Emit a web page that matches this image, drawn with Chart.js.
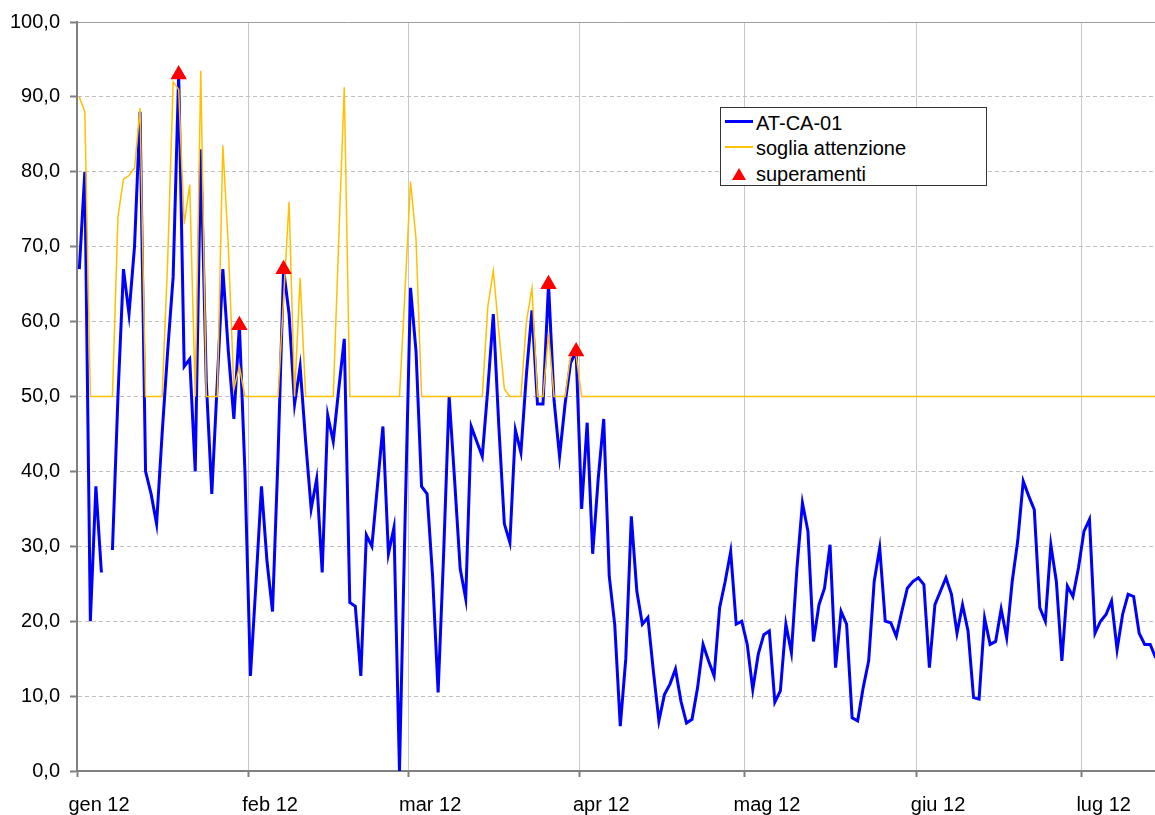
<!DOCTYPE html>
<html lang="it">
<head>
<meta charset="UTF-8">
<title>AT-CA-01 - soglia attenzione</title>
<script src="https://cdn.jsdelivr.net/npm/chart.js@4.4.1/dist/chart.umd.min.js"></script>
<style>
    body { margin: 0; background: #fff; }
    #wrap { position: relative; width: 1155px; height: 815px; overflow: hidden; }
    #legenda {
        position: absolute; left: 720px; top: 107px; width: 265px; height: 77px;
        border: 1px solid #333; background: #fff;
        font-family: "Liberation Sans", Arial, sans-serif; font-size: 20px; color: #000;
    }
    #legenda .testo { position: absolute; left: 35px; white-space: nowrap; line-height: 24px; }
    #legenda .linea { position: absolute; }
    #legenda .tri {
        position: absolute; width: 0; height: 0;
        border-left: 7px solid transparent; border-right: 7px solid transparent;
        border-bottom: 12px solid #ff0000;
    }
</style>
</head>
<body>
<div id="wrap">
    <canvas id="chart" width="1155" height="815"></canvas>
    <div id="legenda">
        <div class="linea" style="left:4px; top:12px; width:28px; height:3px; background:#0000ff;"></div>
        <div class="testo" style="top:3px;">AT-CA-01</div>
        <div class="linea" style="left:4px; top:38px; width:28px; height:2px; background:#ffc000;"></div>
        <div class="testo" style="top:28px;">soglia attenzione</div>
        <div class="tri" style="left:11px; top:60px;"></div>
        <div class="testo" style="top:54px;">superamenti</div>
    </div>
</div>
<script>
    // giorni dal 1 gennaio 2012 in cui inizia ogni mese
    const giorniMese = [0, 31, 60, 91, 121, 152, 182];
    const etichetteMesi = ['gen 12', 'feb 12', 'mar 12', 'apr 12', 'mag 12', 'giu 12', 'lug 12'];

    // valori giornalieri AT-CA-01 (dal 1 gennaio)
    const atCa01 = [
        67, 80, 20, 38, 26.5, null, 29.5, 50, 67, 61,
        70, 88, 40, 37, 33, 45, 56, 66, 93, 54,
        55, 40, 83, 52, 37, 52, 67, 56, 47, 59.5,
        40, 12.7, 25, 38, 28, 21.3, 42, 67, 61, 49,
        54, 44, 35, 39, 26.5, 47.5, 44, 51, 57.7, 22.5,
        22, 12.7, 31.5, 30, 38, 46, 29, 32.5, 0, 33,
        64.5, 56, 38, 37, 26, 10.5, 29, 50, 38.7, 27,
        23, 46, 44, 42, 51, 61, 46, 33, 30.5, 45.5,
        42.5, 53, 61.5, 49, 49, 65, 49.5, 42, 49, 54.5,
        56, 35, 46.5, 29, 39, 47, 26, 19.5, 6, 15,
        34, 24, 19.6, 20.5, 13.3, 6.7, 10.2, 11.6, 13.6, 9.3,
        6.4, 6.9, 11.1, 16.9, 14.7, 12.7, 21.8, 25.3, 29.3, 19.6,
        20, 16.9, 10.9, 15.6, 18.2, 18.7, 9.2, 10.7, 19.6, 15.8,
        27, 35.8, 32, 17.3, 22.2, 24.4, 30.2, 13.8, 21.3, 19.6,
        7.1, 6.7, 11.1, 14.7, 25.3, 29.8, 20, 19.8, 18, 21.3,
        24.4, 25.3, 25.8, 24.9, 13.8, 22.2, 24, 25.8, 23.6, 18.4,
        22.2, 18.7, 9.8, 9.6, 20.4, 16.9, 17.3, 21.6, 17.8, 25.3,
        30.7, 38.7, 36.7, 34.9, 21.8, 20, 30.2, 25.3, 14.7, 24.7,
        23.3, 27.1, 32, 33.6, 18.4, 20, 20.9, 22.7, 16.2, 20.9,
        23.6, 23.3, 18.4, 16.9, 16.9, 15.1
    ];

    // soglia di attenzione giornaliera
    const sogliaAttenzione = [
        90, 88, 50, 50, 50, 50, 50, 74, 79, 79.5,
        80.5, 88.5, 50, 50, 50, 50, 68, 92, 91, 73,
        78.3, 50, 93.5, 50, 50, 50, 83.5, 70, 51, 54,
        50, 50, 50, 50, 50, 50, 50, 63, 76, 50,
        65.8, 50, 50, 50, 50, 50, 50, 71, 91.3, 50,
        50, 50, 50, 50, 50, 50, 50, 50, 50, 64,
        78.7, 71, 50, 50, 50, 50, 50, 50, 50, 50,
        50, 50, 50, 50, 62, 66.8, 58.7, 51, 50, 50,
        50, 60, 64.5, 50, 50, 58.4, 50, 50, 50, 55.5,
        55.5, 50, 50, 50, 50, 50, 50, 50, 50, 50,
        50, 50, 50, 50, 50, 50, 50, 50, 50, 50,
        50, 50, 50, 50, 50, 50, 50, 50, 50, 50,
        50, 50, 50, 50, 50, 50, 50, 50, 50, 50,
        50, 50, 50, 50, 50, 50, 50, 50, 50, 50,
        50, 50, 50, 50, 50, 50, 50, 50, 50, 50,
        50, 50, 50, 50, 50, 50, 50, 50, 50, 50,
        50, 50, 50, 50, 50, 50, 50, 50, 50, 50,
        50, 50, 50, 50, 50, 50, 50, 50, 50, 50,
        50, 50, 50, 50, 50, 50, 50, 50, 50, 50,
        50, 50, 50, 50, 50, 50
    ];

    // superamenti della soglia
    const superamentiGiorno = [18, 29, 37, 85, 90];
    const superamentiValore = [93, 59.5, 67, 65, 56];

    // i tick dei mesi cadono poco prima del punto del giorno
    const spostamento = 0.42;
    const fontAssi = { family: '"Liberation Sans", Arial, sans-serif', size: 20 };

    const canvas = document.getElementById('chart');
    new Chart(canvas, {
        type: 'line',
        data: {
            datasets: [{
                label: 'superamenti',
                type: 'scatter',
                data: superamentiGiorno.map((g, i) => ({ x: g, y: superamentiValore[i] })),
                pointStyle: 'triangle',
                pointRadius: 9.5,
                pointBackgroundColor: '#ff0000',
                pointBorderWidth: 0,
                showLine: false,
                order: 1
            }, {
                label: 'soglia attenzione',
                data: sogliaAttenzione.map((v, i) => ({ x: i, y: v })),
                borderColor: '#ffc000',
                borderWidth: 1.5,
                pointRadius: 0,
                tension: 0,
                order: 2
            }, {
                label: 'AT-CA-01',
                data: atCa01.map((v, i) => ({ x: i, y: v })),
                borderColor: '#0000ff',
                borderWidth: 3,
                pointRadius: 0,
                tension: 0,
                spanGaps: false,
                order: 3
            }]
        },
        options: {
            responsive: false,
            animation: false,
            layout: { autoPadding: false, padding: { top: 20, right: 0, bottom: 0, left: 0 } },
            plugins: {
                legend: { display: false },
                tooltip: { enabled: false }
            },
            scales: {
                x: {
                    type: 'linear',
                    min: -spostamento,
                    max: 194.87,
                    afterBuildTicks: (s) => { s.ticks = giorniMese.map(g => ({ value: g - spostamento })); },
                    afterFit: (s) => {
                        s.height = 44;
                        s.paddingLeft = 0;
                        s.paddingRight = 0;
                    },
                    ticks: {
                        autoSkip: false,
                        maxRotation: 0,
                        labelOffset: 22,
                        padding: 16,
                        color: '#000',
                        font: fontAssi,
                        callback: (v, i) => etichetteMesi[i]
                    },
                    grid: { color: '#c8c8c8', lineWidth: 1, tickColor: '#808080', tickLength: 6, tickWidth: 2, tickBorderDash: [] },
                    border: { color: '#808080', width: 2 }
                },
                y: {
                    min: 0,
                    max: 100,
                    afterFit: (s) => { s.width = 77; },
                    ticks: {
                        stepSize: 10,
                        padding: 10,
                        color: '#000',
                        font: fontAssi,
                        callback: (v) => v.toFixed(1).replace('.', ',')
                    },
                    grid: {
                        color: (ctx) => (ctx.tick && ctx.tick.value === 100) ? '#a0a0a0' : '#c0c0c0',
                        lineWidth: 1,
                        tickColor: '#808080',
                        tickLength: 7,
                        tickWidth: 2,
                        tickBorderDash: []
                    },
                    border: {
                        color: '#808080',
                        width: 2,
                        dash: (ctx) => (ctx.tick && ctx.tick.value === 100) ? [] : [4, 3]
                    }
                }
            }
        }
    });
</script>
</body>
</html>
